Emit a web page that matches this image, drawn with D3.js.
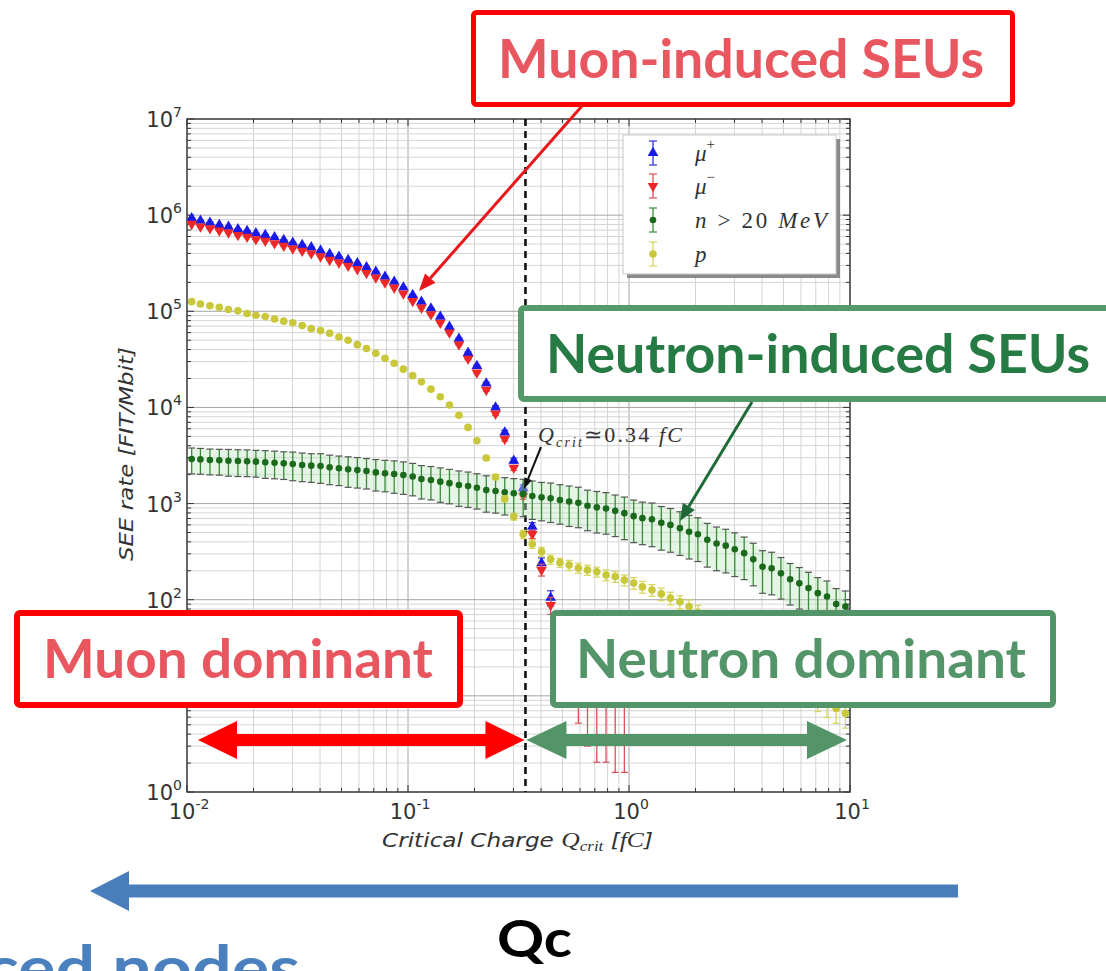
<!DOCTYPE html>
<html>
<head>
<meta charset="utf-8">
<script src="https://cdn.jsdelivr.net/npm/d3@7"></script>
<style>
  body { margin: 0; background: #fff; }
  svg { display: block; }
</style>
</head>
<body>
<script>
// Critical charge bins [fC] (log-spaced bin centres)
const qcrit = [
  0.0105, 0.0115, 0.0127, 0.0140, 0.0154, 0.0170, 0.0187, 0.0205, 0.0226, 0.0249, 0.0274, 0.0301,
  0.0332, 0.0365, 0.0402, 0.0442, 0.0487, 0.0536, 0.0590, 0.0649, 0.0715, 0.0787, 0.0866, 0.0953,
  0.105, 0.115, 0.127, 0.140, 0.154, 0.170, 0.187, 0.205, 0.226, 0.249, 0.274, 0.301,
  0.332, 0.365, 0.402, 0.442, 0.487, 0.536, 0.590, 0.649, 0.715, 0.787, 0.866, 0.953,
  1.05, 1.15, 1.27, 1.40, 1.54, 1.70, 1.87, 2.05, 2.26, 2.49, 2.74, 3.01,
  3.32, 3.65, 4.02, 4.42, 4.87, 5.36, 5.90, 6.49, 7.15, 7.87, 8.66, 9.53
];

// SEE rate [FIT/Mbit], null = no counts
const muPlus = [
  9.3e5, 8.75e5, 8.36e5, 7.9e5, 7.59e5, 7.13e5, 6.84e5, 6.47e5, 6.22e5, 5.89e5, 5.52e5, 5.18e5,
  4.9e5, 4.63e5, 4.28e5, 3.94e5, 3.70e5, 3.42e5, 3.16e5, 2.87e5, 2.58e5, 2.29e5, 2.03e5, 1.77e5,
  1.48e5, 1.26e5, 1.07e5, 8.8e4, 6.9e4, 5.2e4, 3.7e4, 2.7e4, 1.78e4, 1.0e4, 5.5e3, 2.8e3,
  1450, 575, 240, 105, 45, 22, null, null, null, null, null, null,
  null, null, null, null, null, null, null, null, null, null, null, null,
  null, null, null, null, null, null, null, null, null, null, null, null
];
const muPlusErr = [
  0.01, 0.01, 0.01, 0.01, 0.01, 0.01, 0.01, 0.01, 0.01, 0.01, 0.01, 0.01,
  0.01, 0.01, 0.01, 0.01, 0.01, 0.01, 0.01, 0.01, 0.01, 0.01, 0.01, 0.01,
  0.01, 0.01, 0.01, 0.01, 0.01, 0.01, 0.02, 0.02, 0.03, 0.04, 0.05, 0.06,
  0.08, 0.10, 0.13, 0.18, 0.30, 0.40, 0, 0, 0, 0, 0, 0,
  0, 0, 0, 0, 0, 0, 0, 0, 0, 0, 0, 0,
  0, 0, 0, 0, 0, 0, 0, 0, 0, 0, 0, 0
];
const muMinus = [
  8.1e5, 7.6e5, 7.3e5, 6.9e5, 6.6e5, 6.2e5, 5.95e5, 5.6e5, 5.4e5, 5.1e5, 4.8e5, 4.5e5,
  4.25e5, 4.0e5, 3.72e5, 3.42e5, 3.2e5, 2.97e5, 2.74e5, 2.5e5, 2.24e5, 1.99e5, 1.76e5, 1.53e5,
  1.28e5, 1.09e5, 9.3e4, 7.6e4, 6.0e4, 4.5e4, 3.2e4, 2.3e4, 1.52e4, 8.6e3, 4.7e3, 2.35e3,
  1200, 480, 205, 88, 40, 25, 20, 15, 12, 12, 10, 10,
  null, null, null, null, null, null, null, null, null, null, null, null,
  null, null, null, null, null, null, null, null, null, null, null, null
];
const muMinusErr = [
  0.01, 0.01, 0.01, 0.01, 0.01, 0.01, 0.01, 0.01, 0.01, 0.01, 0.01, 0.01,
  0.01, 0.01, 0.01, 0.01, 0.01, 0.01, 0.01, 0.01, 0.01, 0.01, 0.01, 0.01,
  0.01, 0.01, 0.01, 0.01, 0.01, 0.01, 0.02, 0.02, 0.03, 0.04, 0.05, 0.06,
  0.08, 0.10, 0.14, 0.20, 0.32, 0.45, 0.74, 0.80, 0.83, 0.83, 0.84, 0.84,
  0, 0, 0, 0, 0, 0, 0, 0, 0, 0, 0, 0,
  0, 0, 0, 0, 0, 0, 0, 0, 0, 0, 0, 0
];
const neutron = [
  2910, 2880, 2840, 2820, 2790, 2770, 2760, 2730, 2690, 2660, 2620, 2580,
  2520, 2480, 2460, 2380, 2330, 2270, 2230, 2180, 2110, 2070, 2030, 1980,
  1910, 1800, 1760, 1690, 1630, 1560, 1520, 1460, 1380, 1350, 1310, 1280,
  1260, 1200, 1160, 1135, 1090, 1050, 1020, 950, 915, 890, 840, 795,
  740, 705, 685, 630, 600, 555, 510, 480, 420, 385, 365, 335,
  305, 263, 220, 212, 188, 163, 148, 132, 117, 108, 90, 85
];
const neutronErr = [
  0.30, 0.30, 0.30, 0.30, 0.31, 0.31, 0.31, 0.31, 0.32, 0.32, 0.32, 0.33,
  0.33, 0.33, 0.34, 0.34, 0.34, 0.35, 0.35, 0.35, 0.36, 0.36, 0.37, 0.37,
  0.37, 0.38, 0.38, 0.39, 0.39, 0.40, 0.40, 0.40, 0.41, 0.41, 0.42, 0.42,
  0.42, 0.43, 0.43, 0.44, 0.44, 0.45, 0.45, 0.45, 0.46, 0.46, 0.46, 0.47,
  0.47, 0.47, 0.48, 0.48, 0.48, 0.48, 0.48, 0.48, 0.48, 0.48, 0.48, 0.48,
  0.47, 0.47, 0.47, 0.47, 0.46, 0.46, 0.46, 0.46, 0.45, 0.45, 0.45, 0.45
];
const proton = [
  1.26e5, 1.19e5, 1.14e5, 1.10e5, 1.045e5, 1.01e5, 9.5e4, 9.1e4, 8.8e4, 8.3e4, 7.9e4, 7.6e4,
  7.1e4, 6.6e4, 6.3e4, 5.9e4, 5.4e4, 5.0e4, 4.5e4, 4.1e4, 3.66e4, 3.24e4, 2.88e4, 2.5e4,
  2.14e4, 1.85e4, 1.55e4, 1.29e4, 1.06e4, 8.3e3, 6.2e3, 4.5e3, 2.98e3, 1.89e3, 1.12e3, 731,
  479, 380, 316, 263, 243, 229, 214, 204, 195, 181, 174, 160,
  149, 136, 126, 115, 104, 95, 85, 74, 65, 56, 49, 42,
  35, 30, 26, 22, 18.6, 15.8, 13.5, 11.5, 9.8, 8.5, 7.4, 6.6
];
const protonErr = [
  0.02, 0.02, 0.02, 0.02, 0.02, 0.02, 0.02, 0.02, 0.02, 0.02, 0.02, 0.02,
  0.02, 0.02, 0.02, 0.02, 0.02, 0.02, 0.02, 0.02, 0.02, 0.02, 0.02, 0.02,
  0.03, 0.03, 0.03, 0.03, 0.03, 0.03, 0.04, 0.04, 0.05, 0.06, 0.07, 0.08,
  0.10, 0.10, 0.11, 0.11, 0.11, 0.12, 0.12, 0.12, 0.12, 0.13, 0.13, 0.13,
  0.14, 0.14, 0.14, 0.15, 0.15, 0.16, 0.17, 0.18, 0.19, 0.20, 0.21, 0.22,
  0.23, 0.24, 0.25, 0.26, 0.27, 0.28, 0.29, 0.30, 0.30, 0.30, 0.30, 0.30
];

const qcritLine = 0.34;
const xTickExp = ['-2', '-1', '0', '1'];
const yTickExp = ['0', '1', '2', '3', '4', '5', '6', '7'];
const legendLabels = ['mu+', 'mu-', 'n', 'p'];

const width = 1106;
const height = 971;

const svg = d3.select('body').append('svg')
    .attr('width', width)
    .attr('height', height)
    .style('background', '#fff');

// Plot area
const x = d3.scaleLog().domain([1e-2, 1e1]).range([187, 850]);
const y = d3.scaleLog().domain([1, 1e7]).range([792, 119]);
const [x0, x1] = x.range();
const [y0, y1] = [y.range()[1], y.range()[0]];

svg.append('clipPath').attr('id', 'plot-clip')
  .append('rect').attr('x', x0).attr('y', y0).attr('width', x1 - x0).attr('height', y1 - y0);

// Grid, major and minor
const isMajor = v => Math.abs(Math.log10(v) - Math.round(Math.log10(v))) < 1e-6;
const grid = svg.append('g').attr('class', 'grid');
grid.selectAll('.vgrid').data(x.ticks()).join('line')
    .attr('x1', d => x(d)).attr('x2', d => x(d))
    .attr('y1', y0).attr('y2', y1)
    .attr('stroke', d => isMajor(d) ? '#a4a4a4' : '#d4d4d4')
    .attr('stroke-width', 1);
grid.selectAll('.hgrid').data(y.ticks()).join('line')
    .attr('y1', d => y(d)).attr('y2', d => y(d))
    .attr('x1', x0).attr('x2', x1)
    .attr('stroke', d => isMajor(d) ? '#a4a4a4' : '#d4d4d4')
    .attr('stroke-width', 1);

// Inward ticks on all sides
const ticks = svg.append('g').attr('stroke', '#333').attr('stroke-width', 1);
x.ticks().forEach(v => {
  const len = isMajor(v) ? 7 : 4;
  ticks.append('line').attr('x1', x(v)).attr('x2', x(v)).attr('y1', y1).attr('y2', y1 - len);
  ticks.append('line').attr('x1', x(v)).attr('x2', x(v)).attr('y1', y0).attr('y2', y0 + len);
});
y.ticks().forEach(v => {
  const len = isMajor(v) ? 7 : 4;
  ticks.append('line').attr('y1', y(v)).attr('y2', y(v)).attr('x1', x0).attr('x2', x0 + len);
  ticks.append('line').attr('y1', y(v)).attr('y2', y(v)).attr('x1', x1).attr('x2', x1 - len);
});

// Frame
svg.append('rect')
    .attr('x', x0).attr('y', y0).attr('width', x1 - x0).attr('height', y1 - y0)
    .attr('fill', 'none').attr('stroke', '#3a3a3a').attr('stroke-width', 1.4);

// Tick labels
function powLabel(sel, exp) {
  sel.append('tspan').text('10');
  sel.append('tspan').attr('dy', -10).attr('font-size', 14).text(exp);
}
svg.append('g').selectAll('text').data(yTickExp).join('text')
    .attr('x', x0 - 5)
    .attr('y', d => y(Math.pow(10, +d)) + 8)
    .attr('text-anchor', 'end')
    .attr('font-family', 'DejaVu Sans, sans-serif')
    .attr('font-size', 21)
    .attr('fill', '#333')
    .each(function(d) { powLabel(d3.select(this), d); });
svg.append('g').selectAll('text').data(xTickExp).join('text')
    .attr('x', d => x(Math.pow(10, +d)) + 2)
    .attr('y', 819)
    .attr('text-anchor', 'middle')
    .attr('font-family', 'DejaVu Sans, sans-serif')
    .attr('font-size', 21)
    .attr('fill', '#333')
    .each(function(d) { powLabel(d3.select(this), d); });

// Axis labels
const xl = svg.append('text')
    .attr('x', 382).attr('y', 847)
    .attr('font-size', 19).attr('fill', '#333')
    .attr('textLength', 271).attr('lengthAdjust', 'spacingAndGlyphs');
xl.append('tspan').attr('font-family', 'DejaVu Sans, sans-serif').attr('font-style', 'oblique').text('Critical Charge ');
xl.append('tspan').attr('font-family', 'Liberation Serif, serif').attr('font-style', 'italic').attr('font-size', 21).text('Q');
xl.append('tspan').attr('font-family', 'Liberation Serif, serif').attr('font-style', 'italic').attr('font-size', 14).attr('dy', 4).text('crit');
xl.append('tspan').attr('font-family', 'DejaVu Sans, sans-serif').attr('font-style', 'oblique').attr('dy', -4).text(' [');
xl.append('tspan').attr('font-family', 'Liberation Serif, serif').attr('font-style', 'italic').attr('font-size', 21).text('fC');
xl.append('tspan').attr('font-family', 'DejaVu Sans, sans-serif').attr('font-style', 'oblique').text(']');

svg.append('text')
    .attr('transform', 'translate(133,454) rotate(-90)')
    .attr('text-anchor', 'middle')
    .attr('font-family', 'DejaVu Sans, sans-serif')
    .attr('font-style', 'oblique')
    .attr('font-size', 19).attr('fill', '#333')
    .attr('textLength', 214).attr('lengthAdjust', 'spacingAndGlyphs')
    .text('SEE rate [FIT/Mbit]');

// Data layer
const plot = svg.append('g').attr('clip-path', 'url(#plot-clip)');

// Q_crit dashed line
plot.append('line')
    .attr('x1', x(qcritLine)).attr('x2', x(qcritLine))
    .attr('y1', y0).attr('y2', y1)
    .attr('stroke', '#111').attr('stroke-width', 2.6)
    .attr('stroke-dasharray', '7,5');

function rows(vals, errs) {
  return qcrit.map((q, i) => ({ q, v: vals[i], e: errs[i] })).filter(d => d.v != null);
}

function errorBars(g, data, color, capColor, capW) {
  const eb = g.append('g');
  data.filter(d => d.e > 0).forEach(d => {
    const lo = Math.max(d.v * (1 - d.e), 0.5);
    const hi = d.v * (1 + d.e);
    const cx = x(d.q);
    eb.append('line').attr('x1', cx).attr('x2', cx).attr('y1', y(lo)).attr('y2', y(hi))
      .attr('stroke', color).attr('stroke-width', 1.3);
    [lo, hi].forEach(b => {
      eb.append('line').attr('x1', cx - capW).attr('x2', cx + capW).attr('y1', y(b)).attr('y2', y(b))
        .attr('stroke', capColor).attr('stroke-width', 1.2);
    });
  });
}

const tri = d3.symbol(d3.symbolTriangle).size(50);

// mu+
const muPlusRows = rows(muPlus, muPlusErr);
errorBars(plot, muPlusRows, '#3030e0', '#3030e0', 3.5);
plot.append('g').selectAll('path').data(muPlusRows).join('path')
    .attr('d', tri)
    .attr('transform', d => `translate(${x(d.q)},${y(d.v)})`)
    .attr('fill', '#1a1ae6');

// mu-
const muMinusRows = rows(muMinus, muMinusErr);
errorBars(plot, muMinusRows, '#d8505a', '#d8505a', 3.5);
plot.append('g').selectAll('path').data(muMinusRows).join('path')
    .attr('d', tri)
    .attr('transform', d => `translate(${x(d.q)},${y(d.v)}) rotate(180)`)
    .attr('fill', '#ee2828');

// neutrons: light band + error bars
const nRows = rows(neutron, neutronErr);
plot.append('path')
    .datum(nRows)
    .attr('d', d3.area()
      .x(d => x(d.q))
      .y0(d => y(d.v * (1 - d.e)))
      .y1(d => y(d.v * (1 + d.e))))
    .attr('fill', '#bfe5bf').attr('opacity', 0.4);
errorBars(plot, nRows, '#3b8a3b', '#555', 3.5);
plot.append('g').selectAll('circle').data(nRows).join('circle')
    .attr('cx', d => x(d.q)).attr('cy', d => y(d.v))
    .attr('r', 3.3).attr('fill', '#1b6a1b');

// protons
const pRows = rows(proton, protonErr);
errorBars(plot, pRows, '#d6d65a', '#d6d65a', 3.5);
plot.append('g').selectAll('circle').data(pRows).join('circle')
    .attr('cx', d => x(d.q)).attr('cy', d => y(d.v))
    .attr('r', 3.8).attr('fill', '#c8c83a');

// Legend
const legend = svg.append('g');
legend.append('rect').attr('x', 627).attr('y', 139).attr('width', 213).attr('height', 139).attr('fill', '#8a8a8a');
legend.append('rect').attr('x', 623).attr('y', 135).attr('width', 213).attr('height', 139)
    .attr('fill', '#fff').attr('stroke', '#c8c8c8').attr('stroke-width', 1);
const legendStyle = {
  'mu+': { color: '#1a1ae6', bar: '#3030e0', y: 153 },
  'mu-': { color: '#ee2828', bar: '#d8505a', y: 186 },
  'n':   { color: '#1b6a1b', bar: '#3b8a3b', y: 220 },
  'p':   { color: '#c8c83a', bar: '#d6d65a', y: 254 }
};
legendLabels.forEach(key => {
  const s = legendStyle[key];
  const lx = 653;
  legend.append('line').attr('x1', lx).attr('x2', lx).attr('y1', s.y - 12).attr('y2', s.y + 12)
    .attr('stroke', s.bar).attr('stroke-width', 1.3);
  [s.y - 12, s.y + 12].forEach(cy => legend.append('line')
    .attr('x1', lx - 4).attr('x2', lx + 4).attr('y1', cy).attr('y2', cy)
    .attr('stroke', s.bar).attr('stroke-width', 1.2));
  if (key === 'mu+' || key === 'mu-') {
    legend.append('path').attr('d', tri)
      .attr('transform', `translate(${lx},${s.y})` + (key === 'mu-' ? ' rotate(180)' : ''))
      .attr('fill', s.color);
  } else {
    legend.append('circle').attr('cx', lx).attr('cy', s.y).attr('r', key === 'p' ? 3.8 : 3.3).attr('fill', s.color);
  }
  const t = legend.append('text').attr('x', 695).attr('y', s.y + 8)
    .attr('font-family', 'Liberation Serif, serif').attr('font-style', 'italic')
    .attr('font-size', 23).attr('fill', '#333');
  if (key === 'mu+' || key === 'mu-') {
    t.append('tspan').text('μ');
    t.append('tspan').attr('dy', -12).attr('font-size', 15).attr('font-style', 'normal')
      .text(key === 'mu+' ? '+' : '−');
  } else if (key === 'n') {
    t.attr('textLength', 132).attr('lengthAdjust', 'spacing');
    t.append('tspan').text('n');
    t.append('tspan').attr('font-style', 'normal').text('  >  20  ');
    t.append('tspan').text('MeV');
  } else {
    t.text('p');
  }
});

// Q_crit annotation
const qt = svg.append('text').attr('x', 538).attr('y', 442)
    .attr('font-family', 'Liberation Serif, serif').attr('font-size', 22).attr('fill', '#333')
    .attr('textLength', 144).attr('lengthAdjust', 'spacing');
qt.append('tspan').attr('font-style', 'italic').text('Q');
qt.append('tspan').attr('font-style', 'italic').attr('font-size', 14).attr('dy', 5).text('crit');
qt.append('tspan').attr('dy', -5).text('≃0.34 ');
qt.append('tspan').attr('font-style', 'italic').text('fC');

// Arrow helper (line + filled head)
function arrow(xa, ya, xb, yb, color, w, headLen, headW) {
  const ang = Math.atan2(yb - ya, xb - xa);
  const bx = xb - headLen * Math.cos(ang);
  const by = yb - headLen * Math.sin(ang);
  svg.append('line').attr('x1', xa).attr('y1', ya).attr('x2', bx).attr('y2', by)
    .attr('stroke', color).attr('stroke-width', w);
  const px = -Math.sin(ang) * headW / 2;
  const py = Math.cos(ang) * headW / 2;
  svg.append('polygon')
    .attr('points', `${xb},${yb} ${bx + px},${by + py} ${bx - px},${by - py}`)
    .attr('fill', color);
}
arrow(541, 447, 524, 489, '#111', 2, 11, 8);

// Horizontal block arrows
function blockArrow(xa, xb, yc, color, shaft, headLen, headH, both) {
  const s = shaft / 2, h = headH / 2;
  let pts;
  if (both) {
    pts = [[xa, yc], [xa + headLen, yc - h], [xa + headLen, yc - s], [xb - headLen, yc - s], [xb - headLen, yc - h],
           [xb, yc], [xb - headLen, yc + h], [xb - headLen, yc + s], [xa + headLen, yc + s], [xa + headLen, yc + h]];
  } else {
    pts = [[xa, yc], [xa + headLen, yc - h], [xa + headLen, yc - s], [xb, yc - s], [xb, yc + s], [xa + headLen, yc + s], [xa + headLen, yc + h]];
  }
  svg.append('polygon').attr('points', pts.map(p => p.join(',')).join(' ')).attr('fill', color);
}
blockArrow(198, x(qcritLine) - 1, 740, '#ff0000', 12, 39, 38, true);
blockArrow(x(qcritLine) + 1, 847, 740, '#539468', 12, 40, 38, true);
blockArrow(90, 958, 891, '#4a7ebb', 13, 39, 40, false);

// Label boxes
const bigFont = 'Lato, Open Sans, sans-serif';
function labelBox(bx, by, bw, bh, stroke, sw, text, tx, ty, tlen, fill) {
  svg.append('rect').attr('x', bx).attr('y', by).attr('width', bw).attr('height', bh)
    .attr('rx', 3).attr('fill', '#fff').attr('stroke', stroke).attr('stroke-width', sw);
  svg.append('text').attr('x', tx).attr('y', ty)
    .attr('font-family', bigFont).attr('font-weight', 700).attr('font-size', 53)
    .attr('fill', fill).attr('textLength', tlen).attr('lengthAdjust', 'spacingAndGlyphs')
    .text(text);
}
labelBox(473.5, 12.5, 539, 92, '#ff0000', 5, 'Muon-induced SEUs', 498, 78, 486, '#e8575f');
labelBox(521, 308, 620, 91, '#559a6b', 6, 'Neutron-induced SEUs', 546, 373, 544, '#267a43');
labelBox(17, 613, 443, 92, '#ff0000', 6, 'Muon dominant', 43, 678, 390, '#e8575f');
labelBox(553, 613, 500, 92, '#539468', 6, 'Neutron dominant', 576, 678, 450, '#539468');

// Pointer arrows from the boxes
arrow(582, 106, 419, 291, '#e8171c', 3, 17, 14);
arrow(752, 402, 680, 521, '#1f6a38', 3, 17, 14);

// Bottom texts
svg.append('text').attr('x', 497).attr('y', 957)
    .attr('font-family', bigFont).attr('font-weight', 700).attr('font-size', 52)
    .attr('fill', '#000').attr('textLength', 75).attr('lengthAdjust', 'spacingAndGlyphs')
    .text('Qc');
svg.append('text')
    .attr('transform', 'translate(300,990) scale(1.13,1)')
    .attr('text-anchor', 'end')
    .attr('font-family', bigFont).attr('font-weight', 700).attr('font-size', 62)
    .attr('fill', '#4a80be')
    .text('Advanced nodes');
</script>
</body>
</html>
